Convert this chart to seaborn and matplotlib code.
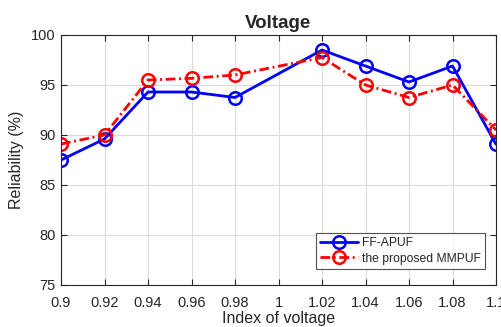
import matplotlib
matplotlib.use("Agg")
import matplotlib.pyplot as plt
import seaborn as sns
import pandas as pd

voltage = [0.90, 0.92, 0.94, 0.96, 0.98, 1.02, 1.04, 1.06, 1.08, 1.10]
ff_apuf = [87.5, 89.6, 94.3, 94.3, 93.75, 98.5, 96.9, 95.3, 96.9, 89.07]
mmpuf = [89.1, 90.0, 95.5, 95.67, 96.0, 97.75, 95.0, 93.75, 95.0, 90.5]
series_names = ["FF-APUF", "the proposed MMPUF"]
x_ticks = [0.9, 0.92, 0.94, 0.96, 0.98, 1.0, 1.02, 1.04, 1.06, 1.08, 1.1]
x_tick_labels = ["0.9", "0.92", "0.94", "0.96", "0.98", "1", "1.02", "1.04", "1.06", "1.08", "1.1"]
y_ticks = [75, 80, 85, 90, 95, 100]

sns.set_theme(style="white")
plt.rcParams["font.family"] = ["Liberation Sans", "DejaVu Sans"]

df = pd.concat([
    pd.DataFrame({"voltage": voltage, "reliability": ff_apuf, "series": series_names[0]}),
    pd.DataFrame({"voltage": voltage, "reliability": mmpuf, "series": series_names[1]}),
])

fig = plt.figure(figsize=(5.02, 3.27), dpi=100)
ax = fig.add_axes([61 / 502, (327 - 285) / 327, (496 - 61) / 502, (285 - 35) / 327])

sns.lineplot(
    data=df, x="voltage", y="reliability", hue="series", style="series",
    palette=["#0000ff", "#ff0000"],
    dashes=[(None, None), (3.5, 1.3, 0.7, 1.3)],
    markers=["o", "o"], markersize=9, markerfacecolor="none",
    markeredgewidth=1.8, linewidth=2.0, ax=ax, sort=False,
)
for line in ax.get_lines():
    line.set_markerfacecolor("none")
    line.set_markeredgecolor(line.get_color())

ax.set_xlim(0.9, 1.1)
ax.set_ylim(75, 100)
ax.set_xticks(x_ticks)
ax.set_xticklabels(x_tick_labels)
ax.set_yticks(y_ticks)
ax.grid(True, color="#dcdcdc", linewidth=0.8)
ax.set_axisbelow(True)
for s in ax.spines.values():
    s.set_visible(True)
    s.set_color("#262626")
    s.set_linewidth(0.8)
ax.tick_params(direction="in", length=4, width=0.8, colors="#262626",
               labelsize=10.5, top=True, right=True, bottom=True, left=True,
               labeltop=False, labelright=False)
ax.tick_params(axis="x", pad=8)
ax.tick_params(axis="y", pad=4)

ax.set_title("Voltage", fontsize=13.5, fontweight="bold", pad=5)
ax.set_xlabel("Index of voltage", fontsize=11.5, color="#262626", labelpad=1)
ax.set_ylabel("Reliability (%)", fontsize=11.5, color="#262626", labelpad=5)

leg = ax.legend(loc="lower right", bbox_to_anchor=(0.975, 0.065), fontsize=8.7,
                frameon=True, fancybox=False, edgecolor="#262626",
                handlelength=3.2, borderpad=0.35, labelspacing=0.3,
                handletextpad=0.3, borderaxespad=0)
leg.get_frame().set_linewidth(0.8)
for h in leg.legend_handles:
    h.set_markerfacecolor("none")

fig.savefig("out.png", dpi=100)
